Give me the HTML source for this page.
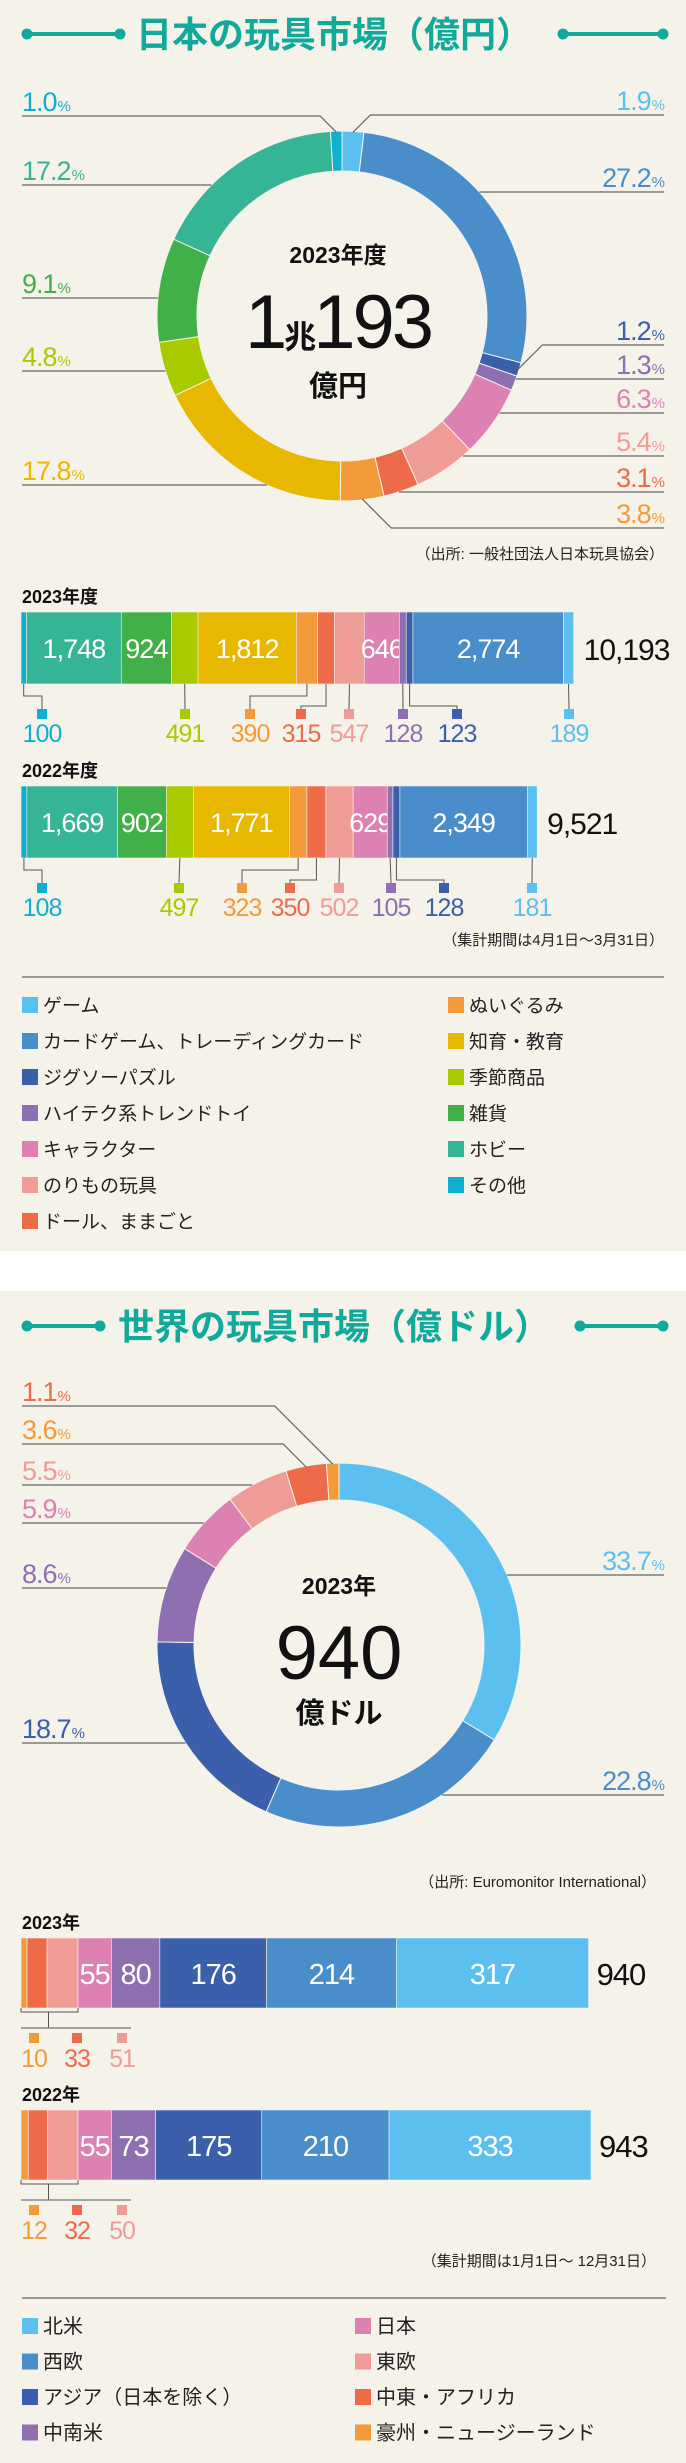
<!DOCTYPE html>
<html><head><meta charset="utf-8"><style>
html,body{margin:0;padding:0;background:#f5f2ea;}
svg{display:block;font-family:"Liberation Sans","Noto Sans CJK JP",sans-serif;}
</style></head><body>
<svg id="root" width="686" height="2463" viewBox="0 0 686 2463" xmlns="http://www.w3.org/2000/svg">
<rect x="0" y="0" width="686" height="2463" fill="#f5f2ea"/>
<rect x="0" y="1251" width="686" height="40" fill="#ffffff"/>
</svg>
<script>
// ---------- Japan data ----------
const jpCategories = ["ゲーム","カードゲーム、トレーディングカード","ジグソーパズル","ハイテク系トレンドトイ","キャラクター","のりもの玩具","ドール、ままごと","ぬいぐるみ","知育・教育","季節商品","雑貨","ホビー","その他"];
const jpShare2023 = [1.9,27.2,1.2,1.3,6.3,5.4,3.1,3.8,17.8,4.8,9.1,17.2,1.0];
const jpValues2023 = [189,2774,123,128,646,547,315,390,1812,491,924,1748,100];
const jpValues2022 = [181,2349,128,105,629,502,350,323,1771,497,902,1669,108];
const jpTotals = [10193,9521];
const jpYears = ["2023年度","2022年度"];
// ---------- World data ----------
const wCategories = ["北米","西欧","アジア（日本を除く）","中南米","日本","東欧","中東・アフリカ","豪州・ニュージーランド"];
const wShare2023 = [33.7,22.8,18.7,8.6,5.9,5.5,3.6,1.1];
const wValues2023 = [317,214,176,80,55,51,33,10];
const wValues2022 = [333,210,175,73,55,50,32,12];
const wTotals = [940,943];
const wYears = ["2023年","2022年"];

const NS="http://www.w3.org/2000/svg";
const root=document.getElementById('root');
const BG="#f5f2ea", TEAL="#10a99a";
const jpColors=["#5bc0ef","#4a8dcb","#3a5fab","#8e70b0","#dd80b2","#f09c96","#ee6b4a","#f39a3b","#e8b800","#a8cb00","#42b048","#35b496","#0fb0cf"];
const wColors=["#5bc0ef","#4a8dcb","#3a5fab","#8e70b0","#dd80b2","#f09c96","#ee6b4a","#f39a3b"];

function mk(tag,attrs,parent){const e=document.createElementNS(NS,tag);for(const k in attrs)e.setAttribute(k,attrs[k]);(parent||root).appendChild(e);return e;}
function txt(x,y,s,size,fill,anchor,weight,parent){const t=mk('text',{x:x,y:y,'font-size':size,fill:fill,'text-anchor':anchor||'start','font-weight':weight||'normal'},parent);t.textContent=s;return t;}

// ---------- titles ----------
function title(y,s,lx1,lx2,rx1,rx2){
  const g=mk('g',{});
  
  
  [[lx1,lx2],[rx1,rx2]].forEach(p=>{
    mk('line',{x1:p[0],y1:y,x2:p[1],y2:y,stroke:TEAL,'stroke-width':4},g);
    mk('circle',{cx:p[0],cy:y,r:5.5,fill:TEAL},g);
    mk('circle',{cx:p[1],cy:y,r:5.5,fill:TEAL},g);
  });
  txt(334,y+13,s,36,TEAL,'middle','bold',g);
}
title(34,"日本の玩具市場（億円）",27,120,563,663);
title(1326,"世界の玩具市場（億ドル）",27,100,580,663);

// ---------- donut ----------
function pt(cx,cy,r,a){const rad=a*Math.PI/180;return [cx+r*Math.sin(rad),cy-r*Math.cos(rad)];}
function donut(cx,cy,ro,ri,shares,colors,labels,name){
  const g=mk('g',{});
  
  
  const sum=shares.reduce((a,b)=>a+b,0);
  let acc=0; const ranges=[];
  shares.forEach((v,i)=>{
    const a0=acc/sum*360, a1=(acc+v)/sum*360; acc+=v; ranges.push([a0,a1]);
    const p0=pt(cx,cy,ro,a0),p1=pt(cx,cy,ro,a1),q1=pt(cx,cy,ri,a1),q0=pt(cx,cy,ri,a0);
    const lg=(a1-a0)>180?1:0;
    const p=mk('path',{d:`M${p0[0]},${p0[1]} A${ro},${ro} 0 ${lg} 1 ${p1[0]},${p1[1]} L${q1[0]},${q1[1]} A${ri},${ri} 0 ${lg} 0 ${q0[0]},${q0[1]} Z`,fill:colors[i],stroke:BG,'stroke-width':1},g);
    
    
  });
  labels.forEach(L=>{
    const i=L.i, r=ranges[i], side=L.side, ly=L.y;
    const xEdge=side==='l'?22:664;
    let pts=[[xEdge,ly]];
    const dy=ly-cy; let ok=false;
    if(Math.abs(dy)<ro){
      const dx=Math.sqrt(ro*ro-dy*dy), ex=side==='l'?cx-dx:cx+dx;
      let ang=Math.atan2(ex-cx,-(ly-cy))*180/Math.PI; if(ang<0)ang+=360;
      if(ang>=r[0]-0.5&&ang<=r[1]+0.5){pts.push([ex,ly]);ok=true;}
    }
    if(!ok){
      const t=pt(cx,cy,ro-1,(r[0]+r[1])/2); const off=Math.abs(t[1]-ly);
      pts.push([side==='l'?t[0]-off:t[0]+off,ly]); pts.push(t);
    }
    const pl=mk('polyline',{points:pts.map(p=>p.join(',')).join(' '),fill:'none',stroke:'#666','stroke-width':1.2},g);
    
    
    const t=txt(xEdge,ly-5,'',27,L.c||colors[i],side==='l'?'start':'end','normal',g);
    t.setAttribute('letter-spacing','-1');
    
    
    const a=mk('tspan',{},t); a.textContent=shares[i].toFixed(1);
    const b=mk('tspan',{'font-size':15,dx:1},t); b.textContent='%';
  });
}
donut(342,316,185,145,jpShare2023,jpColors,[
 {i:12,side:'l',y:116},{i:11,side:'l',y:185},{i:10,side:'l',y:298},{i:9,side:'l',y:371},{i:8,side:'l',y:485},
 {i:0,side:'r',y:115},{i:1,side:'r',y:192},{i:2,side:'r',y:345},{i:3,side:'r',y:379},{i:4,side:'r',y:413},
 {i:5,side:'r',y:456},{i:6,side:'r',y:492},{i:7,side:'r',y:528}],'japan-donut');
donut(339,1645,182,145,wShare2023,wColors,[
 {i:0,side:'r',y:1575},{i:1,side:'r',y:1795},{i:2,side:'l',y:1743},{i:3,side:'l',y:1588},{i:4,side:'l',y:1523},
 {i:5,side:'l',y:1485},{i:6,side:'l',y:1444,c:'#f39a3b'},{i:7,side:'l',y:1406,c:'#ee6b4a'}],'world-donut');

// center texts
txt(338,263,"2023年度",23,'#111','middle','bold');
const big=txt(338,348,'',76,'#111','middle','normal');

big.setAttribute('letter-spacing','-3');
let s1=mk('tspan',{},big);s1.textContent='1';
let s2=mk('tspan',{'font-size':32,'font-weight':'bold'},big);s2.textContent='兆';
let s3=mk('tspan',{},big);s3.textContent='193';
txt(338,396,"億円",29,'#111','middle','bold');
txt(339,1594,"2023年",23,'#111','middle','bold');
txt(339,1679,"940",76,'#111','middle','normal');
txt(339,1723,"億ドル",29,'#111','middle','bold');

// sources/notes
txt(664,559,"（出所: 一般社団法人日本玩具協会）",15,'#222','end');
txt(656,1887,"（出所: Euromonitor International）",15,'#222','end');
txt(664,945,"（集計期間は4月1日～3月31日）",15,'#222','end');
txt(656,2266,"（集計期間は1月1日～ 12月31日）",15,'#222','end');

// ---------- Japan stacked bars ----------
const jpScale=553/10193;
const jpInside=[1,4,8,10,11];
const jpCallX=[[569,null,457,403,null,349,301,250,null,185,null,null,42],[532,null,444,391,null,339,290,242,null,179,null,null,42]];
const jpElbow=[0,0,16,0,0,0,16,6,0,0,0,0,6];
const jpBarY=[612,786];
function jpBar(k,vals){
  const g=mk('g',{});
  
  
  const y=jpBarY[k],h=72;
  txt(22,y-9,jpYears[k],18,'#111','start','bold',g);
  let x=21;
  for(let i=vals.length-1;i>=0;i--){
    const w=vals[i]*jpScale;
    const r=mk('rect',{x:x,y:y,width:w,height:h,fill:jpColors[i],stroke:BG,'stroke-width':0.6},g);
    
    
    const c=x+w/2;
    if(jpInside.includes(i)){
      const t=txt(c,y+h/2+10,vals[i].toLocaleString('en-US'),27,'#fff','middle','normal',g);
      t.setAttribute('letter-spacing','-1');
    } else {
      const lx=jpCallX[k][i], sq=y+h+30;
      let pts;
      if(Math.abs(lx-c)>3){const ey=y+h+6+jpElbow[i];pts=[[c,y+h],[c,ey],[lx,ey],[lx,sq-5]];}
      else pts=[[c,y+h],[lx,sq-5]];
      mk('polyline',{points:pts.map(p=>p.join(',')).join(' '),fill:'none',stroke:'#555','stroke-width':1},g);
      mk('rect',{x:lx-5,y:sq-5,width:10,height:10,fill:jpColors[i]},g);
      const t=txt(lx,sq+28,String(vals[i]),25,jpColors[i],'middle','normal',g);
      t.setAttribute('letter-spacing','-1');
    }
    x+=w;
  }
  const tt=txt(x+10,y+h/2+12,jpTotals[k].toLocaleString('en-US'),30,'#111','start','normal',g);
  tt.setAttribute('letter-spacing','-1');
}
jpBar(0,jpValues2023);
jpBar(1,jpValues2022);

// ---------- World stacked bars ----------
const wScale=570/940;
const wInside=[0,1,2,3,4];
const wCallX=[null,null,null,null,null,122,77,34];
const wBarY=[1938,2110];
function wBar(k,vals){
  const g=mk('g',{});
  
  
  const y=wBarY[k],h=70;
  txt(22,y-9,wYears[k],18,'#111','start','bold',g);
  let x=21,bx0=21,bx1=21;
  for(let i=vals.length-1;i>=0;i--){
    const w=vals[i]*wScale;
    const r=mk('rect',{x:x,y:y,width:w,height:h,fill:wColors[i],stroke:BG,'stroke-width':0.6},g);
    
    
    if(wInside.includes(i)){
      const t=txt(x+w/2,y+h/2+11,String(vals[i]),29,'#fff','middle','normal',g);
      t.setAttribute('letter-spacing','-1');
    } else {
      bx1=x+w;
      const lx=wCallX[i],sq=y+h+30;
      mk('rect',{x:lx-5,y:sq-5,width:10,height:10,fill:wColors[i]},g);
      const t=txt(lx,sq+29,String(vals[i]),25,wColors[i],'middle','normal',g);
      t.setAttribute('letter-spacing','-1');
    }
    x+=w;
  }
  const by=y+h+4, mid=(bx0+bx1)/2-1;
  mk('polyline',{points:`${bx0},${y+h} ${bx0},${by} ${bx1},${by} ${bx1},${y+h}`,fill:'none',stroke:'#555','stroke-width':1},g);
  mk('line',{x1:mid,y1:by,x2:mid,y2:y+h+20,stroke:'#555','stroke-width':1},g);
  mk('line',{x1:21,y1:y+h+20,x2:131,y2:y+h+20,stroke:'#888','stroke-width':1.5},g);
  const tt=txt(x+8,y+h/2+12,String(wTotals[k]),31,'#111','start','normal',g);
  tt.setAttribute('letter-spacing','-1');
}
wBar(0,wValues2023);
wBar(1,wValues2022);

// ---------- legends ----------
mk('line',{x1:22,y1:977,x2:664,y2:977,stroke:'#999','stroke-width':2});
mk('line',{x1:22,y1:2298,x2:666,y2:2298,stroke:'#999','stroke-width':2});
const jpLegendLeft=[0,1,2,3,4,5,6], jpLegendRight=[7,8,9,10,11,12];
function legend(list,cols,colors,x,y0,dy,size){
  list.forEach((i,n)=>{
    const g=mk('g',{});
    
    
    const y=y0+n*dy;
    mk('rect',{x:x,y:y-8,width:16,height:16,fill:colors[i]},g);
    txt(x+21,y+7,cols[i],size,'#222','start','normal',g);
  });
}
legend(jpLegendLeft,jpCategories,jpColors,22,1005,36,19);
legend(jpLegendRight,jpCategories,jpColors,448,1005,36,19);
legend([0,1,2,3],wCategories,wColors,22,2326,35.5,20);
legend([4,5,6,7],wCategories,wColors,355,2326,35.5,20);
</script>
</body></html>
